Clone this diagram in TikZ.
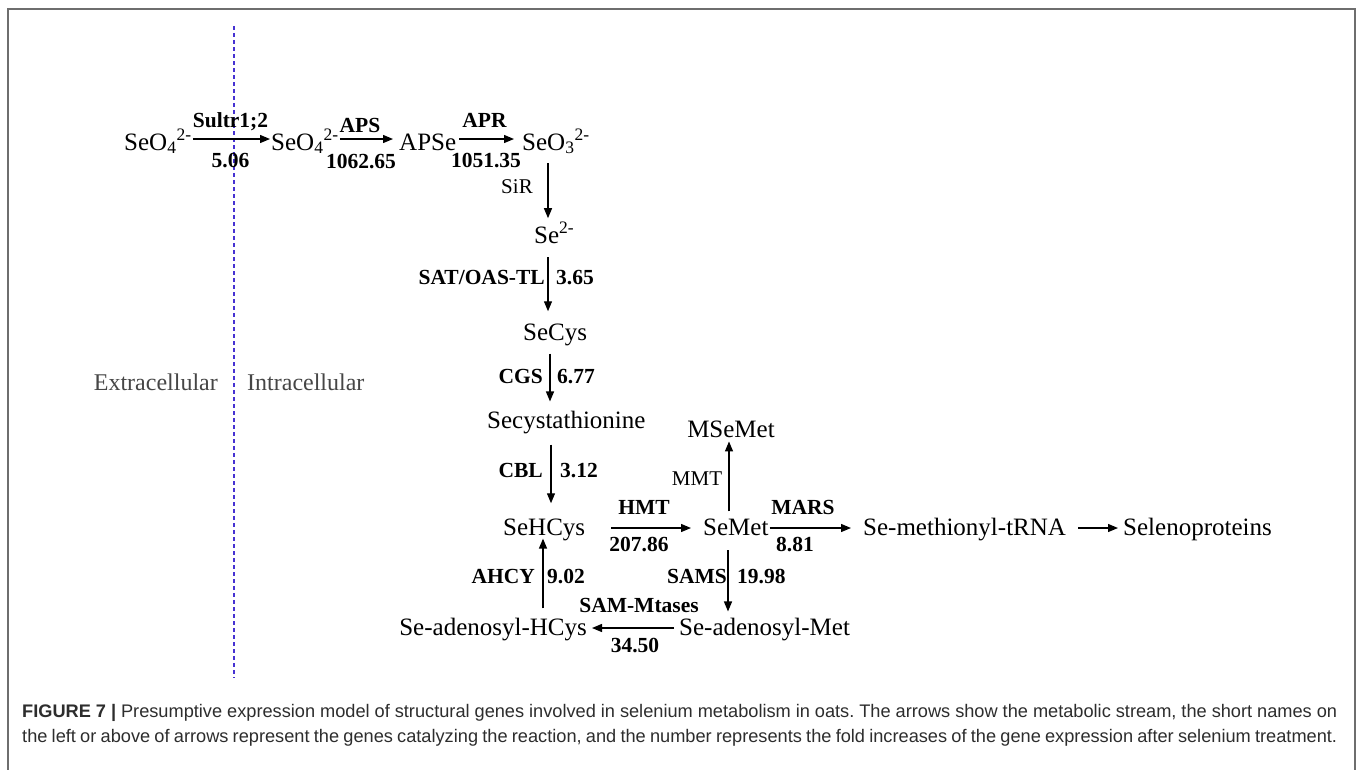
\documentclass[tikz,border=0pt]{standalone}
\usepackage{fontspec}
\setmainfont{Liberation Serif}
\newfontfamily\capfont{Liberation Sans}
\usetikzlibrary{arrows.meta}
\definecolor{framegray}{RGB}{110,110,110}
\definecolor{dashblue}{RGB}{70,50,210}
\definecolor{capgray}{RGB}{45,45,45}
\definecolor{zonegray}{RGB}{70,70,70}
\frenchspacing
\begin{document}
\begin{tikzpicture}[x=1pt,y=-1pt,
  chem/.style={font=\fontsize{25}{28}\selectfont, inner sep=1pt},
  gene/.style={font=\fontsize{21.5}{24}\selectfont\bfseries, inner sep=0pt},
  enz/.style={font=\fontsize{21}{24}\selectfont, inner sep=0pt},
  arr/.style={line width=1.3pt, -{Triangle[length=10pt,width=8pt]}},
  zone/.style={font=\fontsize{24}{28}\selectfont, text=zonegray, inner sep=0pt},
  captext/.style={font=\capfont\fontsize{18.2}{20}\selectfont, text=capgray, inner sep=0pt, anchor=base west}]

\useasboundingbox (0,0) rectangle (1358,769);
\fill[white] (0,0) rectangle (1358,769);
\draw[framegray, line width=1.6pt] (8,790) -- (8,9) -- (1355,9) -- (1355,790);

% membrane
\coordinate (mtop) at (234,26);
\coordinate (mbot) at (234,678);
\draw[dashblue, line width=1.1pt, dash pattern=on 4pt off 3pt] (mtop) -- (mbot);
\node[zone, anchor=base east] (extra) at (218,390) {Extracellular};
\node[zone, anchor=base west] (intra) at (247,390) {Intracellular};

% row 1
\node[chem, anchor=base west] (s1) at (123,150) {SeO\textsubscript{4}\textsuperscript{2-}};
\node[chem, anchor=base west] (s2) at (270,150) {SeO\textsubscript{4}\textsuperscript{2-}};
\node[chem, anchor=base west] (apse) at (398,150) {APSe};
\node[chem, anchor=base west] (seo3) at (521,150) {SeO\textsubscript{3}\textsuperscript{2-}};

% column
\node[chem, anchor=base west] (se) at (533,243) {Se\textsuperscript{2-}};
\node[chem, anchor=base west] (secys) at (522,340) {SeCys};
\node[chem, anchor=base west] (secy) at (486,428) {Secystathionine};
\node[chem, anchor=base west] (sehcys) at (502,535) {SeHCys};
\node[chem, anchor=base west] (semet) at (702,535) {SeMet};
\node[chem, anchor=base] (msemet) at (731,437) {MSeMet};
\node[chem, anchor=base west] (trna) at (862,535) {Se-methionyl-tRNA};
\node[chem, anchor=base west] (selp) at (1122,535) {Selenoproteins};
\node[chem, anchor=base west] (sam) at (678,635) {Se-adenosyl-Met};
\node[chem, anchor=base east] (sah) at (588,635) {Se-adenosyl-HCys};

\coordinate (colA) at (548,0);
\coordinate (colB) at (550,0);
\coordinate (colC) at (551,0);
\coordinate (colD) at (729,0);
\coordinate (colE) at (728,0);
\coordinate (colF) at (543,0);

% horizontal arrows row 1
\draw[arr] ([yshift=11pt]s1.base east) -- ([yshift=11pt]s2.base west);
\draw[arr, shorten >=5pt] ([yshift=11pt]s2.base east) -- ([yshift=11pt]apse.base west);
\draw[arr, shorten <=2pt, shorten >=7pt] ([yshift=11pt]apse.base east) -- ([yshift=11pt]seo3.base west);

% vertical arrows
\draw[arr, shorten <=8pt, shorten >=3pt] (seo3.south -| colA) -- (se.north -| colA);
\draw[arr, shorten <=13pt, shorten >=11pt] (se.south -| colA) -- (secys.north -| colA);
\draw[arr, shorten <=7pt, shorten >=8pt] (secys.south -| colB) -- (secy.north -| colB);
\draw[arr, shorten <=10pt, shorten >=14pt] (secy.south -| colC) -- (sehcys.north -| colC);
\draw[arr, shorten <=8pt, shorten >=-3pt] (sah.north -| colF) -- (sehcys.south -| colF);
\draw[arr, shorten <=6pt, shorten >=3pt] (semet.north -| colD) -- (msemet.south -| colD);
\draw[arr, shorten <=14pt, shorten >=5pt] (semet.south -| colE) -- (sam.north -| colE);

% horizontal arrows rows 3/4
\draw[arr, shorten <=25pt, shorten >=11pt] ([yshift=7pt]sehcys.base east) -- ([yshift=7pt]semet.base west);
\draw[arr, shorten >=11pt] ([yshift=7pt]semet.base east) -- ([yshift=7pt]trna.base west);
\draw[arr, shorten <=11pt, shorten >=4pt] ([yshift=7pt]trna.base east) -- ([yshift=7pt]selp.base west);
\draw[arr, shorten <=4pt, shorten >=4pt] ([yshift=7pt]sam.base west) -- ([yshift=7pt]sah.base east);

% labels
\node[gene, anchor=base] (l1a) at (230.5,127) {Sultr1;2};
\node[gene, anchor=base] (l1b) at (230.5,167) {5.06};
\node[gene, anchor=base] (l2a) at (360,132) {APS};
\node[gene, anchor=base] (l2b) at (361,168) {1062.65};
\node[gene, anchor=base] (l3a) at (484.5,127) {APR};
\node[gene, anchor=base] (l3b) at (486,167) {1051.35};
\node[enz, anchor=base] (l4) at (517,193) {SiR};
\node[gene, anchor=base east] (l5a) at (545,284) {SAT/OAS-TL};
\node[gene, anchor=base west] (l5b) at (556,284) {3.65};
\node[gene, anchor=base east] (l6a) at (543,383) {CGS};
\node[gene, anchor=base west] (l6b) at (557,383) {6.77};
\node[gene, anchor=base east] (l7a) at (543,477) {CBL};
\node[gene, anchor=base west] (l7b) at (560,477) {3.12};
\node[gene, anchor=base] (l8a) at (644,514) {HMT};
\node[gene, anchor=base] (l8b) at (639,551) {207.86};
\node[enz, anchor=base] (l9) at (697,485) {MMT};
\node[gene, anchor=base] (l10a) at (803,514) {MARS};
\node[gene, anchor=base] (l10b) at (795,551) {8.81};
\node[gene, anchor=base east] (l11a) at (727,583) {SAMS};
\node[gene, anchor=base west] (l11b) at (737,583) {19.98};
\node[gene, anchor=base] (l12a) at (639,612) {SAM-Mtases};
\node[gene, anchor=base] (l12b) at (635,652) {34.50};
\node[gene, anchor=base east] (l13a) at (535,583) {AHCY};
\node[gene, anchor=base west] (l13b) at (547,583) {9.02};

% caption
\node[captext] (cap1) at (22,717) {\makebox[1315pt][s]{\textbf{FIGURE 7 |} Presumptive expression model of structural genes involved in selenium metabolism in oats. The arrows show the metabolic stream, the short names on}};
\node[captext] (cap2) at (22,742) {\makebox[1315pt][s]{the left or above of arrows represent the genes catalyzing the reaction, and the number represents the fold increases of the gene expression after selenium treatment.}};
\end{tikzpicture}
\end{document}
